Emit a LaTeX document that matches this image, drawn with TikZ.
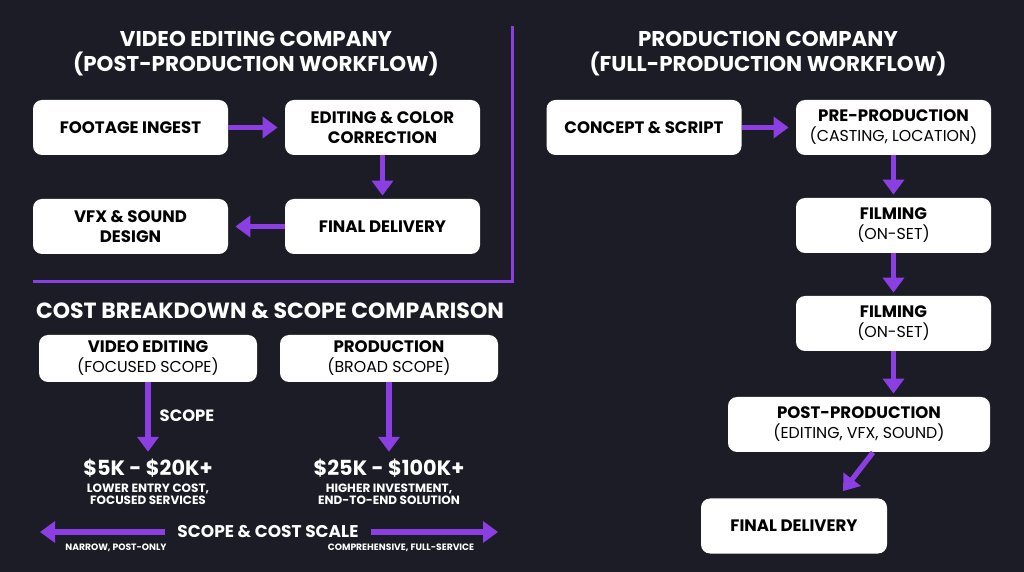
\documentclass[tikz,border=0pt]{standalone}
\usepackage{fontspec}
\setmainfont{Poppins}
\usetikzlibrary{arrows.meta, positioning}
\definecolor{bg}{HTML}{1B1C25}
\definecolor{vio}{HTML}{8B3FE3}
\newcommand{\subline}{\fontsize{7.9}{9}\selectfont\mdseries}

\begin{document}
\begin{tikzpicture}[x=0.5pt, y=-0.5pt,
    box/.style={fill=white, rounded corners=4.5pt, align=center, text=black,
      inner sep=0pt, font=\fontsize{8.3}{10}\selectfont\bfseries,
      minimum width=97.5pt, minimum height=27.5pt},
    head/.style={text=white, align=center, font=\fontsize{10.7}{12.6}\selectfont\bfseries},
    cost/.style={text=white, align=center, font=\fontsize{10.4}{11}\selectfont\bfseries},
    note/.style={text=white, align=center, font=\fontsize{6}{6.2}\selectfont\bfseries},
    flow/.style={vio, line width=2.6pt, -{Triangle[width=10.5pt,length=7.5pt]}},
    rule/.style={vio, line width=1.5pt}]
  \useasboundingbox[fill=bg] (0,0) rectangle (1024,572);

  % post-production workflow
  \node[head] (h1) at (256,54) {VIDEO EDITING COMPANY\\(POST-PRODUCTION WORKFLOW)};
  \node[box] (ingest) at (130.5,127.5) {FOOTAGE INGEST};
  \node[box] (edit) at (382.5,127.5) {EDITING \& COLOR\\CORRECTION};
  \node[box] (vfx) at (130.5,226.5) {VFX \& SOUND\\DESIGN};
  \node[box] (deliv) at (382.5,226.5) {FINAL DELIVERY};
  \draw[flow, shorten >=3.5pt] (ingest) -- (edit);
  \draw[flow, shorten >=1.5pt] (edit) -- (deliv);
  \draw[flow, shorten >=3.5pt] (deliv) -- (vfx);
  \coordinate (c1) at (512,26);
  \coordinate (c2) at (512,282);
  \coordinate (c3) at (33,282);
  \draw[rule] (c1) -- (c2) -- (c3);

  % full-production workflow
  \node[head] (h2) at (768,54) {PRODUCTION COMPANY\\(FULL-PRODUCTION WORKFLOW)};
  \node[box] (concept) at (644,127.5) {CONCEPT \& SCRIPT};
  \node[box] (pre) at (893.5,127.5) {PRE-PRODUCTION\\{\subline (CASTING, LOCATION)}};
  \node[box] (film1) at (893.5,225.5) {FILMING\\{\subline (ON-SET)}};
  \node[box] (film2) at (893.5,323.5) {FILMING\\{\subline (ON-SET)}};
  \node[box, minimum width=131pt] (post) at (859,424.5) {POST-PRODUCTION\\{\subline (EDITING, VFX, SOUND)}};
  \node[box, minimum width=93pt] (fin) at (794,526) {FINAL DELIVERY};
  \draw[flow, shorten >=3.5pt] (concept) -- (pre);
  \draw[flow, shorten >=1.5pt] (pre) -- (film1);
  \draw[flow, shorten >=1.5pt] (film1) -- (film2);
  \draw[flow, shorten >=1.5pt] (film2.south) -- (film2.south |- post.north);
  \draw[flow] ([xshift=7pt]post.south) -- ([xshift=24.5pt,yshift=3.5pt]fin.north);

  % cost comparison
  \node[head, font=\fontsize{11}{12}\selectfont\bfseries] (h3) at (270,311) {COST BREAKDOWN \& SCOPE COMPARISON};
  \node[box, minimum width=109pt, minimum height=23.5pt] (ve) at (148,358.5) {VIDEO EDITING\\{\subline (FOCUSED SCOPE)}};
  \node[box, minimum width=109pt, minimum height=23.5pt] (pr) at (389,358.5) {PRODUCTION\\{\subline (BROAD SCOPE)}};
  \node[cost] (k1) at (148,468) {\$5K - \$20K+};
  \node[cost] (k2) at (389,468) {\$25K - \$100K+};
  \node[note] (n1) at (148,494) {LOWER ENTRY COST,\\FOCUSED SERVICES};
  \node[note] (n2) at (389,494) {HIGHER INVESTMENT,\\END-TO-END SOLUTION};
  \draw[flow] (ve) -- (k1);
  \draw[flow] (pr) -- (k2);
  \node[text=white, font=\fontsize{8.2}{9}\selectfont\bfseries] (sc) at (187,416) {SCOPE};

  \node[head, font=\fontsize{8.5}{9}\selectfont\bfseries, inner xsep=6pt] (scale) at (268,532) {SCOPE \& COST SCALE};
  \coordinate (lo) at (40,532);
  \coordinate (hi) at (498,532);
  \draw[flow] (scale) -- (lo);
  \draw[flow] (scale) -- (hi);
  \node[note, font=\fontsize{4.6}{5}\selectfont\bfseries] (narrow) at (116,548) {NARROW, POST-ONLY};
  \node[note, font=\fontsize{4.6}{5}\selectfont\bfseries] (wide) at (401,548) {COMPREHENSIVE, FULL-SERVICE};
\end{tikzpicture}
\end{document}
